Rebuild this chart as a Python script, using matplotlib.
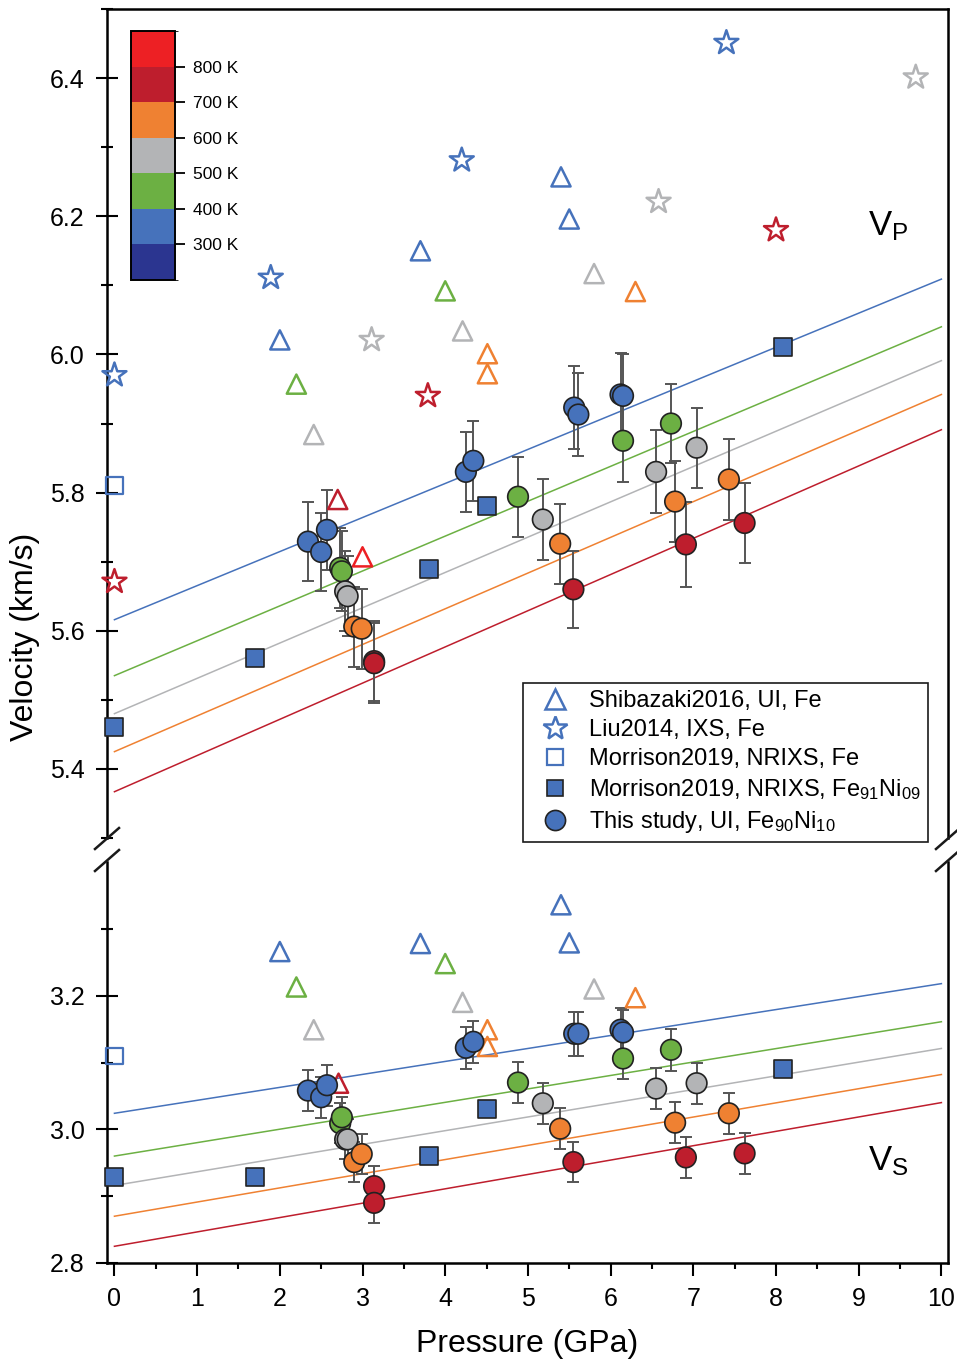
import numpy as np
import matplotlib as mpl
import matplotlib.pyplot as plt
from matplotlib.colors import ListedColormap, BoundaryNorm
from matplotlib.lines import Line2D

plt.rcParams['font.family'] = ['Liberation Sans', 'DejaVu Sans']
plt.rcParams['mathtext.fontset'] = 'custom'
plt.rcParams['mathtext.rm'] = 'Liberation Sans'
plt.rcParams['mathtext.it'] = 'Liberation Sans:italic'

# temperature colours
t_colors = {300: '#4672bb', 400: '#6cb043', 500: '#b3b4b6',
            600: '#ef8132', 700: '#be1e2d', 800: '#ed2024'}
cbar_colors = ['#2b3590', '#4672bb', '#6cb043', '#b3b4b6', '#ef8132', '#be1e2d', '#ed2024']
cbar_bounds = [200, 300, 400, 500, 600, 700, 800, 900]
cbar_ticks = [300, 400, 500, 600, 700, 800]

# Shibazaki2016, UI, Fe (open triangles)
shi_p_vp = [2.00, 3.70, 5.40, 5.50, 2.20, 4.00, 2.41, 4.21, 5.80, 4.51, 4.51, 6.30, 2.70, 3.00]
shi_vp = [6.021, 6.150, 6.257, 6.196, 5.957, 6.092, 5.884, 6.034, 6.117, 6.001, 5.972, 6.091, 5.790, 5.707]
shi_t_vp = [300, 300, 300, 300, 400, 400, 500, 500, 500, 600, 600, 600, 700, 800]
shi_p_vs = [2.00, 3.70, 5.40, 5.50, 2.20, 4.00, 2.41, 4.21, 5.80, 4.51, 4.51, 6.30, 2.71]
shi_vs = [3.266, 3.278, 3.336, 3.279, 3.213, 3.248, 3.149, 3.190, 3.210, 3.149, 3.124, 3.197, 3.069]
shi_t_vs = [300, 300, 300, 300, 400, 400, 500, 500, 500, 600, 600, 600, 700]

# Liu2014, IXS, Fe (open stars, Vp only)
liu_p = [0.0, 1.89, 4.20, 7.40, 3.11, 6.58, 9.69, 3.79, 8.00, 0.0]
liu_vp = [5.970, 6.111, 6.281, 6.451, 6.021, 6.221, 6.401, 5.940, 6.180, 5.671]
liu_t = [300, 300, 300, 300, 500, 500, 500, 700, 700, 700]

# Morrison2019, NRIXS, Fe (open square)
mor_fe_p = [0.0]
mor_fe_vp = [5.810]
mor_fe_vs = [3.110]

# Morrison2019, NRIXS, Fe91Ni09 (filled squares)
mor_feni_p = [0.0, 1.70, 3.80, 4.50, 8.09]
mor_feni_vp = [5.460, 5.560, 5.690, 5.780, 6.011]
mor_feni_vs = [2.928, 2.928, 2.960, 3.030, 3.090]

# This study, UI, Fe90Ni10
ts_p = [2.34, 2.50, 2.57, 2.73, 2.75, 2.79, 2.82, 2.90, 2.99, 3.14, 3.14,
        4.25, 4.34, 4.88, 5.18, 5.39, 5.55, 5.56, 5.61, 6.12, 6.15,
        6.15, 6.73, 6.55, 7.04, 6.78, 7.43, 6.91, 7.62]
ts_t = [300, 300, 300, 400, 400, 500, 500, 600, 600, 700, 700,
        300, 300, 400, 500, 600, 700, 300, 300, 300, 300,
        400, 400, 500, 500, 600, 600, 700, 700]
ts_vp = [5.729, 5.714, 5.746, 5.691, 5.686, 5.657, 5.650, 5.606, 5.603, 5.556, 5.553,
         5.830, 5.846, 5.794, 5.761, 5.726, 5.660, 5.923, 5.913, 5.942, 5.940,
         5.875, 5.900, 5.830, 5.865, 5.787, 5.819, 5.725, 5.756]
ts_vp_err = [0.057, 0.057, 0.058, 0.058, 0.058, 0.058, 0.058, 0.058, 0.058, 0.058, 0.058,
             0.058, 0.058, 0.058, 0.058, 0.058, 0.056, 0.060, 0.060, 0.060, 0.060,
             0.060, 0.057, 0.060, 0.058, 0.058, 0.058, 0.062, 0.058]
ts_vs = [3.058, 3.048, 3.066, 3.009, 3.018, 2.985, 2.985, 2.951, 2.963, 2.915, 2.890,
         3.122, 3.131, 3.070, 3.039, 3.001, 2.951, 3.143, 3.143, 3.149, 3.145,
         3.106, 3.119, 3.061, 3.069, 3.010, 3.024, 2.958, 2.964]
ts_vs_err = [0.031, 0.031, 0.031, 0.030, 0.030, 0.030, 0.030, 0.030, 0.030, 0.030, 0.030,
             0.031, 0.031, 0.031, 0.031, 0.031, 0.030, 0.033, 0.033, 0.033, 0.033,
             0.031, 0.031, 0.031, 0.031, 0.031, 0.031, 0.031, 0.031]

# linear fits v = a + b*P
fit_t = [300, 400, 500, 600, 700]
fit_vp_a = [5.616, 5.535, 5.480, 5.425, 5.367]
fit_vp_b = [0.0493, 0.0505, 0.0511, 0.0517, 0.0524]
fit_vs_a = [3.024, 2.960, 2.916, 2.870, 2.825]
fit_vs_b = [0.0194, 0.0201, 0.0205, 0.0212, 0.0215]

W, H = 957, 1364
fig = plt.figure(figsize=(W / 100, H / 100), dpi=100)
ax1 = fig.add_axes([107 / W, 1 - 838 / H, 841 / W, 829 / H])
ax2 = fig.add_axes([107 / W, 1 - 1263 / H, 841 / W, 401 / H])

blue = t_colors[300]


def cols(ts):
    return [t_colors[t] for t in ts]


def draw_panel(ax, a, b, shi_p, shi_v, shi_t, ts_v, ts_err, mfe_v, mfeni_v):
    pp = np.array([0, 10])
    for t, ai, bi in zip(fit_t, a, b):
        ax.plot(pp, ai + bi * pp, color=t_colors[t], lw=1.1, zorder=1)
    ax.scatter(shi_p, shi_v, marker='^', s=190, facecolors='none',
               edgecolors=cols(shi_t), linewidths=1.8, zorder=3)
    ax.scatter(mor_fe_p, mfe_v, marker='s', s=140, facecolors='none',
               edgecolors=blue, linewidths=1.6, zorder=3, clip_on=False)
    ax.scatter(mor_feni_p, mfeni_v, marker='s', s=150, color=blue,
               edgecolors='#222222', linewidths=1.2, zorder=3, clip_on=False)
    ax.errorbar(ts_p, ts_v, yerr=ts_err, fmt='none', ecolor='#555555',
                elinewidth=1.4, capsize=4.5, capthick=1.4, zorder=2)
    ax.scatter(ts_p, ts_v, marker='o', s=220, c=cols(ts_t),
               edgecolors='#222222', linewidths=1.2, zorder=4)


draw_panel(ax1, fit_vp_a, fit_vp_b, shi_p_vp, shi_vp, shi_t_vp,
           ts_vp, ts_vp_err, mor_fe_vp, mor_feni_vp)
ax1.scatter(liu_p, liu_vp, marker='*', s=330, facecolors='none',
            edgecolors=cols(liu_t), linewidths=1.8, zorder=3, clip_on=False)
draw_panel(ax2, fit_vs_a, fit_vs_b, shi_p_vs, shi_vs, shi_t_vs,
           ts_vs, ts_vs_err, mor_fe_vs, mor_feni_vs)

for ax in (ax1, ax2):
    ax.set_xlim(-0.09, 10.08)
    for s in ax.spines.values():
        s.set_linewidth(1.8)
    ax.tick_params(axis='y', which='major', direction='inout', length=16, width=1.5,
                   labelsize=18, pad=8)
    ax.tick_params(axis='y', which='minor', direction='inout', length=9, width=1.5)
    ax.tick_params(axis='y', right=False, which='both')

ax1.set_ylim(5.3, 6.5)
ax1.set_yticks([5.4, 5.6, 5.8, 6.0, 6.2, 6.4])
ax1.set_yticks(np.arange(5.3, 6.55, 0.2), minor=True)
ax1.spines['bottom'].set_visible(False)
ax1.tick_params(axis='x', which='both', bottom=False, labelbottom=False)

ax2.set_ylim(2.8, 3.4)
ax2.set_yticks([2.8, 3.0, 3.2])
ax2.set_yticks([2.9, 3.1, 3.3], minor=True)
ax2.spines['top'].set_visible(False)
ax2.set_xticks(range(0, 11))
ax2.set_xticks(np.arange(0.5, 10, 1.0), minor=True)
ax2.tick_params(axis='x', which='major', direction='out', length=9, width=1.5,
                labelsize=18, pad=8)
ax2.tick_params(axis='x', which='minor', direction='out', length=4.5, width=1.5)

# axis break marks
for xpx in (107, 948):
    for ypx in (838.5, 860.5):
        fig.add_artist(Line2D([(xpx - 12) / W, (xpx + 12) / W],
                              [1 - (ypx + 10.5) / H, 1 - (ypx - 10.5) / H],
                              color='#1a1a1a', lw=1.8))

ax1.text(9.11, 6.185, r'V$_\mathrm{P}$', fontsize=25, ha='left', va='center')
ax2.text(9.11, 2.952, r'V$_\mathrm{S}$', fontsize=25, ha='left', va='center')

fig.text(0.026, 0.533, 'Velocity (km/s)', rotation=90, fontsize=23,
         ha='center', va='center')
fig.text(527 / W, 1 - 1344 / H, 'Pressure (GPa)', fontsize=23,
         ha='center', va='center')

# legend
handles = [
    Line2D([], [], ls='none', marker='^', ms=13.8, mfc='none', mec=blue, mew=1.8),
    Line2D([], [], ls='none', marker='*', ms=18, mfc='none', mec=blue, mew=1.8),
    Line2D([], [], ls='none', marker='s', ms=11.5, mfc='none', mec=blue, mew=1.6),
    Line2D([], [], ls='none', marker='s', ms=12, mfc=blue, mec='#222222', mew=1.2),
    Line2D([], [], ls='none', marker='o', ms=14.5, mfc=blue, mec='#222222', mew=1.2),
]
labels = ['Shibazaki2016, UI, Fe', 'Liu2014, IXS, Fe', 'Morrison2019, NRIXS, Fe',
          r'Morrison2019, NRIXS, Fe$_{91}$Ni$_{09}$', r'This study, UI, Fe$_{90}$Ni$_{10}$']
leg = ax1.legend(handles, labels, loc='upper left', bbox_to_anchor=(523 / W, 1 - 683 / H),
                 bbox_transform=fig.transFigure, borderaxespad=0, fontsize=17,
                 frameon=True, fancybox=False, edgecolor='#1a1a1a', framealpha=1,
                 borderpad=0.3, handlelength=2.1, handletextpad=0.4, labelspacing=0.3)
leg.get_frame().set_linewidth(1.2)

# temperature colour bar
cax = fig.add_axes([131 / W, 1 - 280 / H, 44 / W, 249 / H])
cmap = ListedColormap(cbar_colors)
norm = BoundaryNorm(cbar_bounds, cmap.N)
cb = mpl.colorbar.ColorbarBase(cax, cmap=cmap, norm=norm, boundaries=cbar_bounds,
                               ticks=cbar_ticks)
cb.set_ticklabels(['{} K'.format(t) for t in cbar_ticks])
cb.outline.set_linewidth(1.4)
cax.tick_params(length=7, width=1.3, labelsize=12.5, pad=6)

fig.savefig('out.png', dpi=100)
